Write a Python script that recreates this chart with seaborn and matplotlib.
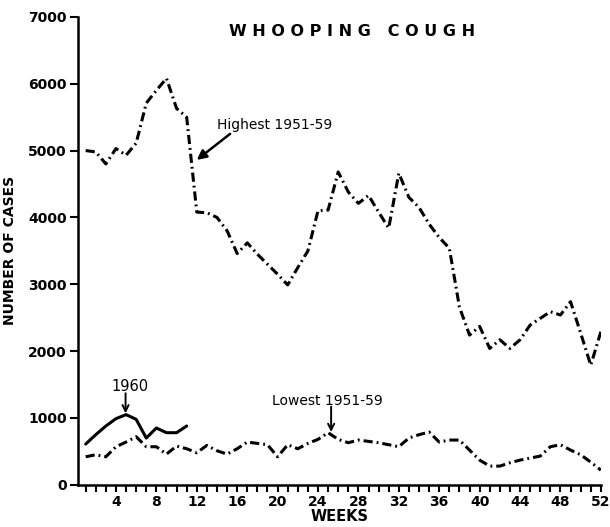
import numpy as np
import pandas as pd
import seaborn as sns
import matplotlib.pyplot as plt

# weekly notifications
weeks = list(range(1, 53))
highest = [5000, 4980, 4800, 5030, 4930, 5110, 5710, 5900, 6080, 5630,
           5500, 4080, 4070, 4000, 3800, 3460, 3620, 3450, 3300, 3150,
           2990, 3250, 3500, 4100, 4110, 4680, 4380, 4210, 4330, 4080,
           3840, 4660, 4300, 4150, 3900, 3700, 3540, 2660, 2240, 2370,
           2040, 2170, 2040, 2170, 2390, 2490, 2590, 2540, 2740, 2270,
           1790, 2290]
lowest = [420, 450, 420, 570, 640, 720, 570, 570, 460, 580,
          540, 480, 590, 510, 460, 540, 640, 620, 600, 420,
          600, 540, 620, 680, 780, 680, 630, 670, 650, 630,
          600, 570, 700, 750, 790, 640, 670, 670, 520, 370,
          280, 280, 330, 370, 400, 430, 570, 600, 520, 450,
          340, 220]
weeks_1960 = list(range(1, 12))
cases_1960 = [610, 750, 880, 990, 1050, 980, 700, 850, 780, 780, 880]

y_ticks = [0, 1000, 2000, 3000, 4000, 5000, 6000, 7000]
x_ticks = list(range(4, 53, 4))

sns.set_style("ticks")
plt.rcParams['font.family'] = ['DejaVu Sans']
for key in ['text.color', 'axes.labelcolor', 'xtick.color', 'ytick.color']:
    plt.rcParams[key] = 'black'

fig = plt.figure(figsize=(6.1, 5.27), dpi=100, facecolor='white')
ax = fig.add_axes([0.128, 0.08, 0.857, 0.888])

df_hi = pd.DataFrame({'week': weeks, 'cases': highest})
df_lo = pd.DataFrame({'week': weeks, 'cases': lowest})
df_60 = pd.DataFrame({'week': weeks_1960, 'cases': cases_1960})

dashdot = (0, (3, 1.3, 0.6, 1.3))
sns.lineplot(data=df_hi, x='week', y='cases', ax=ax, color='black', lw=2.2)
ax.lines[-1].set_linestyle(dashdot)
sns.lineplot(data=df_lo, x='week', y='cases', ax=ax, color='black', lw=2.2)
ax.lines[-1].set_linestyle(dashdot)
sns.lineplot(data=df_60, x='week', y='cases', ax=ax, color='black', lw=2.2)

ax.set_xlim(0.25, 52)
ax.set_ylim(0, 7000)
ax.set_yticks(y_ticks)
ax.set_yticklabels([str(v) for v in y_ticks], fontweight='bold', fontsize=10)
ax.set_xticks(x_ticks)
ax.set_xticklabels([str(v) for v in x_ticks], fontweight='bold', fontsize=10)
ax.set_xticks(weeks, minor=True)
ax.tick_params(axis='both', which='both', direction='out', length=5,
               width=1.5, color='black', pad=2)
ax.tick_params(axis='y', length=6)

for side in ['top', 'right']:
    ax.spines[side].set_visible(False)
for side in ['left', 'bottom']:
    ax.spines[side].set_linewidth(1.8)
    ax.spines[side].set_color('black')

ax.set_xlabel('WEEKS', fontweight='bold', fontsize=10.5, labelpad=0)
ax.set_ylabel('NUMBER OF CASES', fontweight='bold', fontsize=10, labelpad=8)

ax.text(0.525, 0.985, 'W H O O P I N G   C O U G H', transform=ax.transAxes,
        ha='center', va='top', fontsize=11.5, fontweight='bold')

# labels with their arrows
ax.text(14.0, 5380, 'Highest 1951-59', fontsize=10, va='center', ha='left')
ax.annotate('', xy=(12.0, 4860), xytext=(15.3, 5250),
            arrowprops=dict(arrowstyle='-|>', color='black', lw=1.8,
                            mutation_scale=14, shrinkA=0, shrinkB=0))
ax.text(19.4, 1255, 'Lowest 1951-59', fontsize=10, va='center', ha='left')
ax.annotate('', xy=(25.3, 790), xytext=(25.3, 1170),
            arrowprops=dict(arrowstyle='->', color='black', lw=1.4,
                            mutation_scale=11, shrinkA=0, shrinkB=0))
ax.text(3.6, 1465, '1960', fontsize=10.5, va='center', ha='left')
ax.annotate('', xy=(4.95, 1070), xytext=(4.95, 1370),
            arrowprops=dict(arrowstyle='->', color='black', lw=1.4,
                            mutation_scale=11, shrinkA=0, shrinkB=0))

fig.savefig('out.png', dpi=100, facecolor='white')
